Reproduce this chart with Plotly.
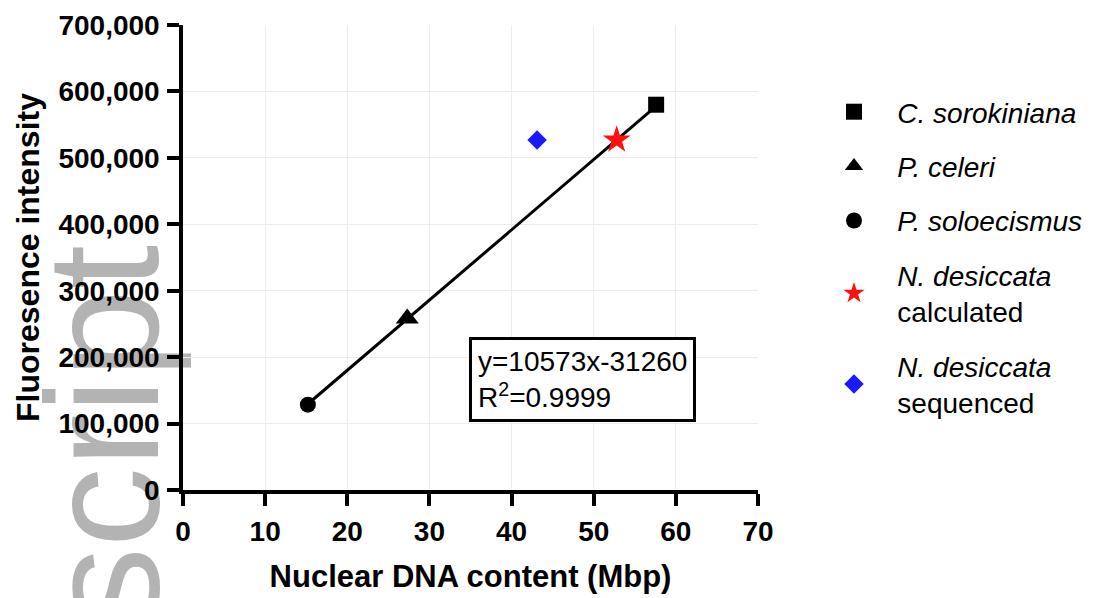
"""
Nuclear DNA content vs fluorescence intensity, with linear calibration fit.
"""
import plotly.graph_objects as go

# --- data ---
standard_names = ["C. sorokiniana", "P. celeri", "P. soloecismus"]
standard_symbols = ["square", "triangle-up", "circle"]
standard_sizes = [16, 20, 16]
dna_mbp = [57.6, 27.3, 15.2]
fluorescence = [580000, 258000, 128500]

calc_x = [52.8]
calc_y = [527000]
seq_x = [43.1]
seq_y = [527000]

slope = 10573
intercept = -31260
r_squared = 0.9999

x_ticks = [0, 10, 20, 30, 40, 50, 60, 70]
y_ticks = [0, 100000, 200000, 300000, 400000, 500000, 600000, 700000]

FONT = "Liberation Sans, Arial, sans-serif"
# the page has an 8px body margin, so the figure sits 8px in from the corner
OFF = 8
W, H = 1105, 598
PLOT_L, PLOT_R, PLOT_T, PLOT_B = 183 - OFF, 758 - OFF, 25 - OFF, 490 - OFF
PLOT_W, PLOT_H = PLOT_R - PLOT_L, PLOT_B - PLOT_T


def paper_xy(px, py):
    """Page pixel position -> paper coordinates."""
    return (px - OFF - PLOT_L) / PLOT_W, (PLOT_B - (py - OFF)) / PLOT_H


fig = go.Figure()

# fit line across the standards
fit_x = [min(dna_mbp), max(dna_mbp)]
fig.add_trace(go.Scatter(x=fit_x, y=[slope * v + intercept for v in fit_x], mode="lines",
                         line=dict(color="black", width=3), showlegend=False, hoverinfo="skip"))

pad = "\u00a0" * 3
for i, name in enumerate(standard_names):
    fig.add_trace(go.Scatter(x=[dna_mbp[i]], y=[fluorescence[i]], mode="markers",
                             marker=dict(symbol=standard_symbols[i], size=standard_sizes[i], color="black"),
                             name=f"{pad}<i>{name}</i>", legendgroup=f"g{i}"))

fig.add_trace(go.Scatter(x=calc_x, y=calc_y, mode="markers",
                         marker=dict(symbol="star", size=21, color="#ff1010"),
                         name=f"{pad}<i>N. desiccata</i><br>{pad}calculated", legendgroup="g3"))
fig.add_trace(go.Scatter(x=seq_x, y=seq_y, mode="markers",
                         marker=dict(symbol="diamond", size=15, color="#1a1aff"),
                         name=f"{pad}<i>N. desiccata</i><br>{pad}sequenced", legendgroup="g4"))

axis_common = dict(
    showline=True, linecolor="black", linewidth=3.5,
    ticks="outside", ticklen=12, tickwidth=3.5, tickcolor="black",
    showgrid=True, gridcolor="#ececec", gridwidth=1,
    zeroline=False, mirror=False, automargin=False,
    tickfont=dict(family=FONT, size=28, color="black", weight="bold"),
)

fig.update_xaxes(range=[0, 70], tickvals=x_ticks, ticklabelstandoff=2, **axis_common,
                 title=dict(text="Nuclear DNA content (Mbp)", standoff=20,
                            font=dict(family=FONT, size=31, color="black", weight="bold")))
fig.update_yaxes(range=[0, 700000], tickvals=y_ticks, ticklabelstandoff=2,
                 ticktext=[f"{v:,}" for v in y_ticks], **axis_common,
                 title=dict(text="Fluoresence intensity", standoff=10,
                            font=dict(family=FONT, size=32, color="black", weight="bold")))

# equation box
fig.add_annotation(x=48.6, y=167000, xref="x", yref="y", showarrow=False,
                   text=f"y={slope}x{intercept}<br>R<sup>2</sup>={r_squared}",
                   align="left", xanchor="center", yanchor="middle",
                   font=dict(family=FONT, size=28, color="black"),
                   bordercolor="black", borderwidth=3, borderpad=6, bgcolor="white")

# "Manuscript" watermark of the source page, kept beneath the tick labels
x0, y0 = paper_xy(77, 446)
x1, y1 = paper_xy(97, 426)
fig.add_shape(type="rect", xref="paper", yref="paper", x0=x0, x1=x1, y0=y0, y1=y1,
              layer="below", line=dict(width=0), fillcolor="rgba(0,0,0,0)",
              label=dict(text="script", textangle=-90, textposition="middle center",
                         font=dict(family=FONT, size=160, color="#b3b3b3")))

lx, ly = paper_xy(834, 87)
fig.update_layout(
    width=W, height=H,
    margin=dict(l=PLOT_L, r=W - PLOT_R, t=PLOT_T, b=H - PLOT_B, autoexpand=False),
    paper_bgcolor="white", plot_bgcolor="white",
    font=dict(family=FONT, color="black"),
    legend=dict(x=lx, y=ly, xanchor="left", yanchor="top",
                font=dict(family=FONT, size=28, color="black"),
                tracegroupgap=15, itemsizing="trace", bgcolor="rgba(0,0,0,0)"),
)

fig.write_html("out.html")
